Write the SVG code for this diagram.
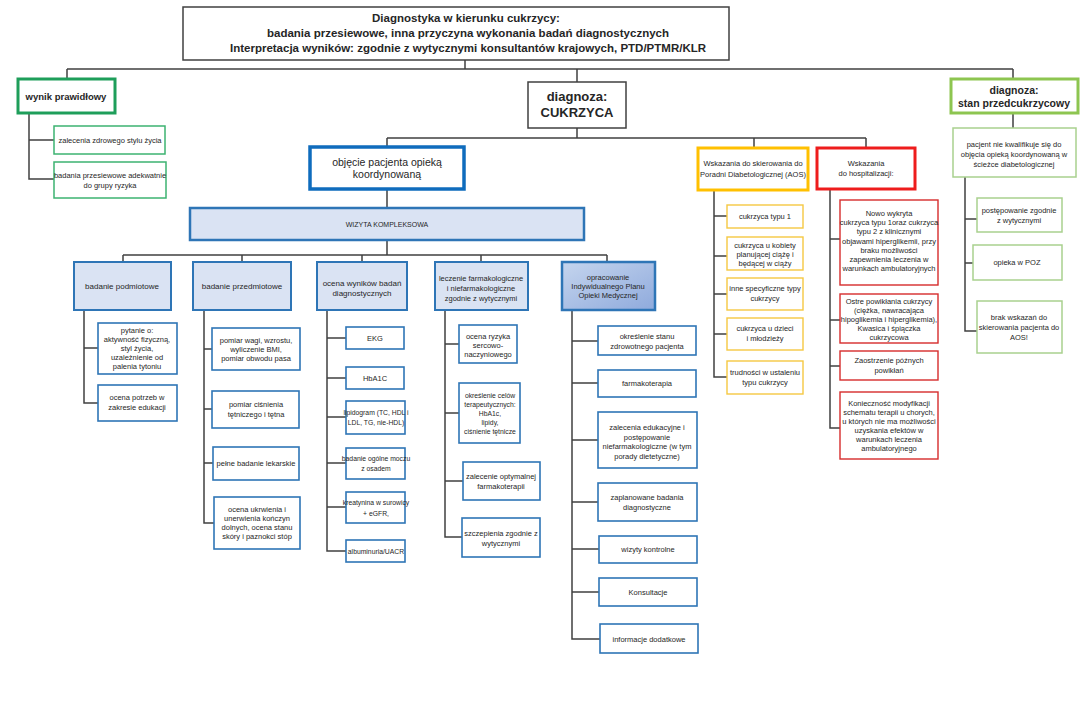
<svg xmlns="http://www.w3.org/2000/svg" width="1086" height="712" viewBox="0 0 1086 712">
<defs>
<linearGradient id="gOp" x1="0" y1="0" x2="1" y2="1">
<stop offset="0" stop-color="#c5d5ee"/>
<stop offset="1" stop-color="#8faadc"/>
</linearGradient>
<style>
text{font-family:"Liberation Sans",Arial,sans-serif;fill:#262626;text-anchor:middle}
.b{font-weight:bold}
.f7{font-size:7.5px}
.f6{font-size:6.8px}
.f8{font-size:8px}
.con{fill:none;stroke:#404040;stroke-width:1.5}
.gray{fill:#fff;stroke:#404040;stroke-width:1.5}
.gT{fill:#fff;stroke:#1e9e5a;stroke-width:3}
.gC{fill:#fff;stroke:#3cb371;stroke-width:1.5}
.lgT{fill:#fff;stroke:#8dc550;stroke-width:3}
.lgC{fill:#fff;stroke:#a9d18e;stroke-width:1.5}
.bT{fill:#fff;stroke:#0f6cbd;stroke-width:3.5}
.bH{fill:#dae3f3;stroke:#2e75b6;stroke-width:2}
.bC{fill:#fff;stroke:#2e75b6;stroke-width:1.6}
.yT{fill:#fff;stroke:#ffc000;stroke-width:3}
.yC{fill:#fff;stroke:#f5c842;stroke-width:1.4}
.rT{fill:#fff;stroke:#ee1c1c;stroke-width:3}
.rC{fill:#fff;stroke:#d62c2c;stroke-width:1.4}
</style>
</defs>
<rect width="1086" height="712" fill="#fff"/>

<g id="connectors">
<path class="con" d="M465,60V69M67,69H1013M67,69V79M577,69V82M1013,69V79"/>
<path class="con" d="M29,113V179H54M29,140H54"/>
<path class="con" d="M1013,113V128M965,177V331H977M965,219H977M965,263H973"/>
<path class="con" d="M577,128V138M387,138H866M387,138V147M754,138V148M866,138V148"/>
<path class="con" d="M387,189V208M387,240V255M123,255H607M123,255V262M242,255V262M362,255V262M481,255V262M607,255V262"/>
<path class="con" d="M84,310V403H98M84,348H98"/>
<path class="con" d="M204,310V523H214M204,349H212M204,409H212M204,463H213"/>
<path class="con" d="M327,310V551H346M327,338H346M327,378H346M327,417H346M327,463H346M327,507H346"/>
<path class="con" d="M445,310V537H462M445,344H459M445,413H459M445,481H463"/>
<path class="con" d="M572,310V639H600M572,341H598M572,383H598M572,440H598M572,502H598M572,549H599M572,592H599"/>
<path class="con" d="M714,190V377H727M714,216H727M714,256H727M714,294H727M714,334H727"/>
<path class="con" d="M830,189V428H840M830,239H840M830,320H840M830,366H840"/>
</g>

<g id="title">
<rect class="gray" x="183" y="7" width="546" height="53"/>
<text class="b" font-size="11.5" x="466" y="22">Diagnostyka w kierunku cukrzycy:</text>
<text class="b" font-size="11.5" x="468" y="37">badania przesiewowe, inna przyczyna wykonania badań diagnostycznych</text>
<text class="b" font-size="11.5" x="468" y="52">Interpretacja wyników: zgodnie z wytycznymi konsultantów krajowych, PTD/PTMR/KLR</text>
</g>

<g id="wynik-prawidlowy">
<rect class="gT" x="18" y="79" width="97" height="34"/>
<text class="b" font-size="9.5" x="66" y="100">wynik prawidłowy</text>
</g>
<g id="zalecenia-zdrowego">
<rect class="gC" x="54" y="126" width="111" height="28"/>
<text class="f7" x="110" y="143">zalecenia zdrowego stylu życia</text>
</g>
<g id="badania-przesiewowe">
<rect class="gC" x="54" y="162" width="112" height="36"/>
<text class="f7" x="110" y="178">badania przesiewowe adekwatnie</text>
<text class="f7" x="110" y="188">do grupy ryzyka</text>
</g>

<g id="cukrzyca">
<rect class="gray" x="528" y="82" width="98" height="46"/>
<text class="b" font-size="13" x="577" y="101">diagnoza:</text>
<text class="b" font-size="13" x="577" y="117">CUKRZYCA</text>
</g>

<g id="stan-przedcukrzycowy">
<rect class="lgT" x="951" y="79" width="127" height="34"/>
<text class="b" font-size="10.5" x="1014" y="94">diagnoza:</text>
<text class="b" font-size="10.5" x="1014" y="107">stan przedcukrzycowy</text>
</g>
<g id="pacjent-nie-kwalifikuje">
<rect class="lgC" x="953" y="128" width="123" height="49"/>
<text class="f7" x="1014" y="147">pacjent nie kwalifikuje się do</text>
<text class="f7" x="1014" y="157">objęcia opieką koordynowaną w</text>
<text class="f7" x="1014" y="167">ścieżce diabetologicznej</text>
</g>
<g id="postepowanie-zgodnie">
<rect class="lgC" x="977" y="198" width="85" height="34"/>
<text class="f7" x="1019" y="213">postępowanie zgodnie</text>
<text class="f7" x="1019" y="223">z wytycznymi</text>
</g>
<g id="opieka-poz">
<rect class="lgC" x="973" y="245" width="89" height="35"/>
<text class="f7" x="1017" y="265">opieka w POZ</text>
</g>
<g id="brak-wskazan">
<rect class="lgC" x="977" y="301" width="85" height="52"/>
<text class="f7" x="1019" y="320">brak wskazań do</text>
<text class="f7" x="1019" y="330">skierowania pacjenta do</text>
<text class="f7" x="1019" y="340">AOS!</text>
</g>

<g id="objecie">
<rect class="bT" x="310" y="147" width="154" height="42"/>
<text font-size="10.5" x="387" y="166">objęcie pacjenta opieką</text>
<text font-size="10.5" x="387" y="178">koordynowaną</text>
</g>
<g id="wizyta">
<rect fill="#dae3f3" stroke="#2e75b6" stroke-width="2.5" x="190" y="208" width="394" height="32"/>
<text font-size="7" x="387" y="227">WIZYTA KOMPLEKSOWA</text>
</g>

<g id="badanie-podmiotowe">
<rect class="bH" x="74" y="262" width="97" height="48"/>
<text class="f8" x="122" y="289">badanie podmiotowe</text>
</g>
<g id="pytanie">
<rect class="bC" x="98" y="323" width="79" height="51"/>
<text class="f7" x="137" y="333">pytanie o:</text>
<text class="f7" x="137" y="342">aktywność fizyczną,</text>
<text class="f7" x="137" y="351">styl życia,</text>
<text class="f7" x="137" y="360">uzależnienie od</text>
<text class="f7" x="137" y="369">palenia tytoniu</text>
</g>
<g id="ocena-potrzeb">
<rect class="bC" x="98" y="385" width="79" height="36"/>
<text class="f7" x="137" y="400">ocena potrzeb w</text>
<text class="f7" x="137" y="410">zakresie edukacji</text>
</g>

<g id="badanie-przedmiotowe">
<rect class="bH" x="193" y="262" width="98" height="48"/>
<text class="f8" x="242" y="289">badanie przedmiotowe</text>
</g>
<g id="pomiar-wagi">
<rect class="bC" x="212" y="328" width="88" height="42"/>
<text class="f7" x="256" y="343">pomiar wagi, wzrostu,</text>
<text class="f7" x="256" y="352">wyliczenie BMI,</text>
<text class="f7" x="256" y="361">pomiar obwodu pasa</text>
</g>
<g id="pomiar-cisnienia">
<rect class="bC" x="212" y="391" width="87" height="37"/>
<text class="f7" x="256" y="407">pomiar ciśnienia</text>
<text class="f7" x="256" y="417">tętniczego i tętna</text>
</g>
<g id="pelne-badanie">
<rect class="bC" x="213" y="447" width="86" height="33"/>
<text class="f7" x="256" y="466">pełne badanie lekarskie</text>
</g>
<g id="ocena-ukrwienia">
<rect class="bC" x="214" y="497" width="86" height="52"/>
<text class="f7" x="257" y="512">ocena ukrwienia i</text>
<text class="f7" x="257" y="521">unerwienia kończyn</text>
<text class="f7" x="257" y="530">dolnych, ocena stanu</text>
<text class="f7" x="257" y="539">skóry i paznokci stóp</text>
</g>

<g id="ocena-wynikow">
<rect class="bH" x="317" y="262" width="90" height="48"/>
<text class="f8" x="362" y="286">ocena wyników badań</text>
<text class="f8" x="362" y="296">diagnostycznych</text>
</g>
<g id="ekg">
<rect class="bC" x="346" y="327" width="58" height="22"/>
<text class="f7" x="375" y="341">EKG</text>
</g>
<g id="hba1c">
<rect class="bC" x="346" y="367" width="58" height="22"/>
<text class="f7" x="375" y="381">HbA1C</text>
</g>
<g id="lipidogram">
<rect class="bC" x="346" y="401" width="59" height="33"/>
<text class="f6" x="376" y="415">lipidogram (TC, HDL i</text>
<text class="f6" x="376" y="425">LDL, TG, nie-HDL)</text>
</g>
<g id="mocz">
<rect class="bC" x="346" y="448" width="59" height="31"/>
<text class="f6" x="376" y="461">badanie ogólne moczu</text>
<text class="f6" x="376" y="471">z osadem</text>
</g>
<g id="kreatynina">
<rect class="bC" x="346" y="492" width="59" height="31"/>
<text class="f6" x="376" y="505">kreatynina w surowicy</text>
<text class="f6" x="376" y="516">+ eGFR,</text>
</g>
<g id="albuminuria">
<rect class="bC" x="346" y="540" width="59" height="22"/>
<text class="f6" x="376" y="554">albuminuria/UACR</text>
</g>

<g id="leczenie">
<rect class="bH" x="435" y="262" width="93" height="48"/>
<text class="f7" x="481" y="281">leczenie farmakologiczne</text>
<text class="f7" x="481" y="291">i niefarmakologiczne</text>
<text class="f7" x="481" y="301">zgodnie z wytycznymi</text>
</g>
<g id="ocena-ryzyka">
<rect class="bC" x="459" y="325" width="58" height="38"/>
<text class="f7" x="488" y="339">ocena ryzyka</text>
<text class="f7" x="488" y="348">sercowo-</text>
<text class="f7" x="488" y="357">naczyniowego</text>
</g>
<g id="okreslenie-celow">
<rect class="bC" x="459" y="383" width="61" height="60"/>
<text class="f6" x="490" y="398">określenie celów</text>
<text class="f6" x="490" y="407">terapeutycznych:</text>
<text class="f6" x="490" y="416">HbA1c,</text>
<text class="f6" x="490" y="425">lipidy,</text>
<text class="f6" x="490" y="434">ciśnienie tętnicze</text>
</g>
<g id="zalecenie-optymalnej">
<rect class="bC" x="463" y="462" width="77" height="38"/>
<text class="f7" x="501" y="479">zalecenie optymalnej</text>
<text class="f7" x="501" y="489">farmakoterapii</text>
</g>
<g id="szczepienia">
<rect class="bC" x="462" y="518" width="78" height="39"/>
<text class="f7" x="501" y="536">szczepienia zgodnie z</text>
<text class="f7" x="501" y="546">wytycznymi</text>
</g>

<g id="opracowanie">
<rect fill="url(#gOp)" stroke="#2e75b6" stroke-width="2.5" x="562" y="262" width="93" height="48"/>
<text class="f7" x="608" y="280">opracowanie</text>
<text class="f7" x="608" y="289">Indywidualnego Planu</text>
<text class="f7" x="608" y="298">Opieki Medycznej</text>
</g>
<g id="okreslenie-stanu">
<rect class="bC" x="598" y="326" width="98" height="29"/>
<text class="f7" x="647" y="339">określenie stanu</text>
<text class="f7" x="647" y="349">zdrowotnego pacjenta</text>
</g>
<g id="farmakoterapia">
<rect class="bC" x="598" y="370" width="98" height="27"/>
<text class="f7" x="647" y="386">farmakoterapia</text>
</g>
<g id="zalecenia-edukacyjne">
<rect class="bC" x="598" y="412" width="99" height="56"/>
<text class="f7" x="647" y="430">zalecenia edukacyjne i</text>
<text class="f7" x="647" y="440">postępowanie</text>
<text class="f7" x="647" y="449">niefarmakologiczne (w tym</text>
<text class="f7" x="647" y="459">porady dietetyczne)</text>
</g>
<g id="zaplanowane">
<rect class="bC" x="598" y="483" width="99" height="38"/>
<text class="f7" x="647" y="500">zaplanowane badania</text>
<text class="f7" x="647" y="510">diagnostyczne</text>
</g>
<g id="wizyty-kontrolne">
<rect class="bC" x="599" y="536" width="98" height="27"/>
<text class="f7" x="648" y="552">wizyty kontrolne</text>
</g>
<g id="konsultacje">
<rect class="bC" x="599" y="578" width="98" height="28"/>
<text class="f7" x="648" y="595">Konsultacje</text>
</g>
<g id="informacje">
<rect class="bC" x="600" y="624" width="98" height="29"/>
<text class="f7" x="649" y="642">informacje dodatkowe</text>
</g>

<g id="aos">
<rect class="yT" x="698" y="148" width="110" height="42"/>
<text class="f7" x="753" y="166">Wskazania do skierowania do</text>
<text class="f7" x="753" y="177">Poradni Diabetologicznej (AOS)</text>
</g>
<g id="typu1">
<rect class="yC" x="727" y="205" width="76" height="23"/>
<text class="f7" x="765" y="219">cukrzyca typu 1</text>
</g>
<g id="kobiety">
<rect class="yC" x="727" y="237" width="76" height="33"/>
<text class="f7" x="765" y="248">cukrzyca u kobiety</text>
<text class="f7" x="765" y="257">planującej ciążę i</text>
<text class="f7" x="765" y="266">będącej w ciąży</text>
</g>
<g id="inne-typy">
<rect class="yC" x="727" y="278" width="76" height="32"/>
<text class="f7" x="765" y="291">inne specyficzne typy</text>
<text class="f7" x="765" y="301">cukrzycy</text>
</g>
<g id="dzieci">
<rect class="yC" x="727" y="318" width="76" height="32"/>
<text class="f7" x="765" y="331">cukrzyca u dzieci</text>
<text class="f7" x="765" y="341">i młodzieży</text>
</g>
<g id="trudnosci">
<rect class="yC" x="727" y="361" width="76" height="33"/>
<text class="f7" x="765" y="375">trudności w ustaleniu</text>
<text class="f7" x="765" y="385">typu cukrzycy</text>
</g>

<g id="hospitalizacja">
<rect class="rT" x="817" y="148" width="98" height="41"/>
<text class="f7" x="866" y="166">Wskazania</text>
<text class="f7" x="866" y="176">do hospitalizacji:</text>
</g>
<g id="nowo-wykryta">
<rect class="rC" x="840" y="200" width="98" height="85"/>
<text class="f7" x="889" y="216">Nowo wykryta</text>
<text class="f7" x="889" y="225">cukrzyca typu 1oraz  cukrzyca</text>
<text class="f7" x="889" y="234">typu 2 z klinicznymi</text>
<text class="f7" x="889" y="244">objawami hiperglikemii, przy</text>
<text class="f7" x="889" y="253">braku możliwości</text>
<text class="f7" x="889" y="262">zapewnienia leczenia w</text>
<text class="f7" x="889" y="271">warunkach ambulatoryjnych</text>
</g>
<g id="ostre-powiklania">
<rect class="rC" x="840" y="294" width="98" height="49"/>
<text class="f7" x="889" y="304">Ostre powikłania cukrzycy</text>
<text class="f7" x="889" y="313">(ciężka, nawracająca</text>
<text class="f7" x="889" y="322">hipoglikemia i hiperglikemia),</text>
<text class="f7" x="889" y="331">Kwasica i śpiączka</text>
<text class="f7" x="889" y="340">cukrzycowa</text>
</g>
<g id="zaostrzenie">
<rect class="rC" x="840" y="351" width="98" height="29"/>
<text class="f7" x="889" y="363">Zaostrzenie późnych</text>
<text class="f7" x="889" y="373">powikłań</text>
</g>
<g id="koniecznosc">
<rect class="rC" x="840" y="392" width="98" height="67"/>
<text class="f7" x="889" y="406">Konieczność modyfikacji</text>
<text class="f7" x="889" y="415">schematu terapii u chorych,</text>
<text class="f7" x="889" y="424">u których nie ma możliwości</text>
<text class="f7" x="889" y="433">uzyskania efektów w</text>
<text class="f7" x="889" y="442">warunkach leczenia</text>
<text class="f7" x="889" y="451">ambulatoryjnego</text>
</g>
</svg>
